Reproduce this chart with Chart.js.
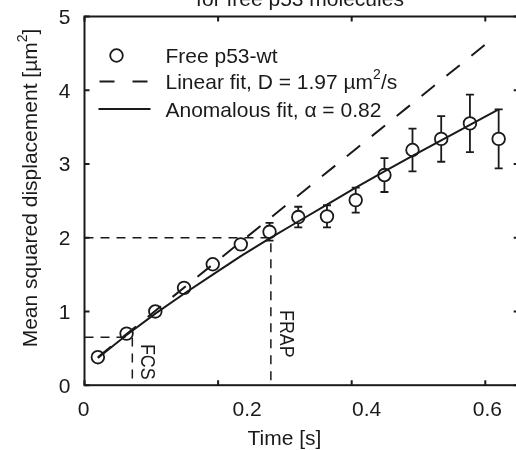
<!DOCTYPE html>
<html>
<head>
<meta charset="utf-8">
<script src="https://cdn.jsdelivr.net/npm/chart.js"></script>
<style>
  html, body { margin: 0; padding: 0; overflow: hidden; background: #fff; }
  #grafico { position: absolute; left: 0; top: 0; }
</style>
</head>
<body>
<canvas id="grafico" width="540" height="450"></canvas>
<script>
// datos (tiempo en s, MSD en um^2)
const tiempos = [0.020, 0.063, 0.106, 0.149, 0.192, 0.234, 0.277, 0.320, 0.363, 0.406, 0.449, 0.491, 0.534, 0.577, 0.620];
const msd = [0.38, 0.70, 1.00, 1.32, 1.64, 1.91, 2.08, 2.28, 2.29, 2.51, 2.85, 3.19, 3.34, 3.55, 3.34];
const errores = [0.01, 0.02, 0.02, 0.04, 0.06, 0.07, 0.12, 0.14, 0.15, 0.17, 0.23, 0.29, 0.31, 0.39, 0.40];

// ajuste lineal (recta discontinua)
const tiemposLineal = [0.02, 0.60];
const msdLineal = [0.38, 4.62];

// ajuste anomalo (curva continua)
const tiemposAnomalo = [0.020, 0.063, 0.106, 0.149, 0.192, 0.234, 0.279, 0.320, 0.363, 0.406, 0.449, 0.491, 0.534, 0.577, 0.620];
const msdAnomalo = [0.37, 0.68, 0.97, 1.24, 1.50, 1.75, 2.00, 2.22, 2.45, 2.68, 2.90, 3.11, 3.32, 3.53, 3.74];

// lineas guia FCS / FRAP
const guiasNombre = ["FCS", "FRAP"];
const guiasT = [0.0716, 0.279];
const guiasMsd = [0.65, 2.0];

const ticksX = [0, 0.2, 0.4, 0.6];
const ticksY = [0, 1, 2, 3, 4, 5];

const negro = '#1a1a1a';
const letra = '"Liberation Sans", Arial, Helvetica, sans-serif';

function puntos(xs, ys) {
    return xs.map((v, i) => ({x: v, y: ys[i]}));
}

// texto con un "2" de superindice en medio
function textoConSuper(ctx, antes, despues, x, y, tam) {
    ctx.font = tam + 'px ' + letra;
    ctx.fillText(antes, x, y);
    let w = ctx.measureText(antes).width;
    ctx.font = Math.round(tam * 0.66) + 'px ' + letra;
    ctx.fillText('2', x + w, y - tam * 0.48);
    w += ctx.measureText('2').width;
    ctx.font = tam + 'px ' + letra;
    ctx.fillText(despues, x + w, y);
}

function anchoConSuper(ctx, antes, despues, tam) {
    ctx.font = tam + 'px ' + letra;
    let w = ctx.measureText(antes).width + ctx.measureText(despues).width;
    ctx.font = Math.round(tam * 0.66) + 'px ' + letra;
    return w + ctx.measureText('2').width;
}

const pluginFigura = {
    id: 'figura',
    beforeDatasetsDraw(chart) {
        // barras de error por debajo de los circulos
        const {ctx, scales: {x, y}} = chart;
        ctx.save();
        ctx.strokeStyle = negro;
        ctx.lineWidth = 1.8;
        tiempos.forEach((t, i) => {
            const px = x.getPixelForValue(t);
            const arriba = y.getPixelForValue(msd[i] + errores[i]);
            const abajo = y.getPixelForValue(msd[i] - errores[i]);
            ctx.beginPath();
            ctx.moveTo(px, arriba); ctx.lineTo(px, abajo);
            ctx.moveTo(px - 4, arriba); ctx.lineTo(px + 4, arriba);
            ctx.moveTo(px - 4, abajo); ctx.lineTo(px + 4, abajo);
            ctx.stroke();
        });
        ctx.restore();
    },
    afterDraw(chart) {
        const {ctx, chartArea: a, scales: {x, y}} = chart;
        ctx.save();
        ctx.strokeStyle = negro;
        ctx.fillStyle = negro;

        // caja de ejes con marcas hacia dentro
        ctx.lineWidth = 2;
        ctx.strokeRect(a.left, a.top, a.right - a.left, a.bottom - a.top);
        ctx.beginPath();
        ticksX.forEach(v => {
            const px = x.getPixelForValue(v);
            ctx.moveTo(px, a.bottom); ctx.lineTo(px, a.bottom - 5);
            ctx.moveTo(px, a.top); ctx.lineTo(px, a.top + 5);
        });
        ticksY.forEach(v => {
            const py = y.getPixelForValue(v);
            ctx.moveTo(a.left, py); ctx.lineTo(a.left + 5, py);
            ctx.moveTo(a.right, py); ctx.lineTo(a.right - 5, py);
        });
        ctx.stroke();

        // etiquetas del eje x (en la figura original 0.2 y 0.4 estan corridas)
        const corrimiento = [-1, 29, 15, 2];
        ctx.font = '21px ' + letra;
        ctx.textAlign = 'center';
        ctx.textBaseline = 'alphabetic';
        ticksX.forEach((v, i) => {
            ctx.fillText(String(v), x.getPixelForValue(v) + corrimiento[i], a.bottom + 31);
        });

        // etiquetas del eje y
        ctx.textAlign = 'right';
        ticksY.forEach(v => {
            ctx.fillText(String(v), a.left - 14, y.getPixelForValue(v) + 7.5);
        });

        // titulos
        ctx.textAlign = 'center';
        ctx.fillText('Time [s]', a.left + 200, a.bottom + 60);
        ctx.fillText('for free p53 molecules', 300, a.top - 10.5);

        // titulo eje y (girado)
        ctx.save();
        ctx.translate(37, 188);
        ctx.rotate(-Math.PI / 2);
        ctx.textAlign = 'left';
        const antesY = 'Mean squared displacement [\u00b5m', despuesY = ']';
        textoConSuper(ctx, antesY, despuesY, -anchoConSuper(ctx, antesY, despuesY, 21) / 2, 0, 21);
        ctx.restore();

        // textos FCS y FRAP junto a las guias verticales (algo estrechos, como en el original)
        const anclaY = [0.56, 1.02];
        ctx.font = '21px ' + letra;
        ctx.textAlign = 'left';
        guiasNombre.forEach((nombre, i) => {
            ctx.save();
            ctx.translate(x.getPixelForValue(guiasT[i]) + 9, y.getPixelForValue(anclaY[i]));
            ctx.rotate(Math.PI / 2);
            ctx.scale(0.85, 1);
            ctx.fillText(nombre, 0, 0);
            ctx.restore();
        });

        // leyenda
        const lx = a.left, ly = a.top;
        ctx.lineWidth = 1.8;
        ctx.beginPath();
        ctx.arc(lx + 32, ly + 39, 6.3, 0, Math.PI * 2);
        ctx.stroke();
        ctx.lineWidth = 2;
        ctx.setLineDash([15, 18]);
        ctx.beginPath();
        ctx.moveTo(lx + 15, ly + 65); ctx.lineTo(lx + 63, ly + 65);
        ctx.stroke();
        ctx.setLineDash([]);
        ctx.beginPath();
        ctx.moveTo(lx + 14, ly + 92.5); ctx.lineTo(lx + 66, ly + 92.5);
        ctx.stroke();

        ctx.textAlign = 'left';
        ctx.font = '21px ' + letra;
        ctx.fillText('Free p53-wt', lx + 81, ly + 46);
        textoConSuper(ctx, 'Linear fit, D = 1.97 \u00b5m', '/s', lx + 81, ly + 72.5, 21);
        ctx.font = '21px ' + letra;
        ctx.fillText('Anomalous fit, \u03b1 = 0.82', lx + 81, ly + 100);
        ctx.restore();
    }
};

const datasets = [
    {
        label: 'Anomalous fit',
        data: puntos(tiemposAnomalo, msdAnomalo),
        showLine: true, borderColor: negro, borderWidth: 2, pointRadius: 0
    },
    {
        label: 'Linear fit',
        data: puntos(tiemposLineal, msdLineal),
        showLine: true, borderColor: negro, borderWidth: 2, borderDash: [17, 15], pointRadius: 0
    }
];
guiasNombre.forEach((nombre, i) => {
    datasets.push({
        label: nombre,
        data: puntos([0, guiasT[i], guiasT[i]], [guiasMsd[i], guiasMsd[i], 0]),
        showLine: true, borderColor: negro, borderWidth: 1.5, borderDash: [9, 7], pointRadius: 0
    });
});
datasets.push({
    label: 'Free p53-wt',
    data: puntos(tiempos, msd),
    showLine: false, pointStyle: 'circle', pointRadius: 6.3, borderWidth: 1.8,
    borderColor: negro, backgroundColor: '#ffffff'
});

new Chart('grafico', {
    type: 'scatter',
    data: {datasets: datasets},
    options: {
        responsive: false,
        animation: false,
        devicePixelRatio: 1,
        layout: {padding: {top: 16.5, right: 21.3, left: 0, bottom: 0}},
        plugins: {legend: {display: false}, tooltip: {enabled: false}},
        scales: {
            x: {
                type: 'linear', min: 0, max: 0.65,
                grid: {display: false, drawTicks: false},
                border: {display: false},
                ticks: {display: false},
                afterBuildTicks: s => { s.ticks = ticksX.map(v => ({value: v})); },
                afterFit: s => { s.height = 64.8; }
            },
            y: {
                type: 'linear', min: 0, max: 5,
                grid: {display: false, drawTicks: false},
                border: {display: false},
                ticks: {display: false},
                afterBuildTicks: s => { s.ticks = ticksY.map(v => ({value: v})); },
                afterFit: s => { s.width = 84.5; }
            }
        }
    },
    plugins: [pluginFigura]
});
</script>
</body>
</html>
